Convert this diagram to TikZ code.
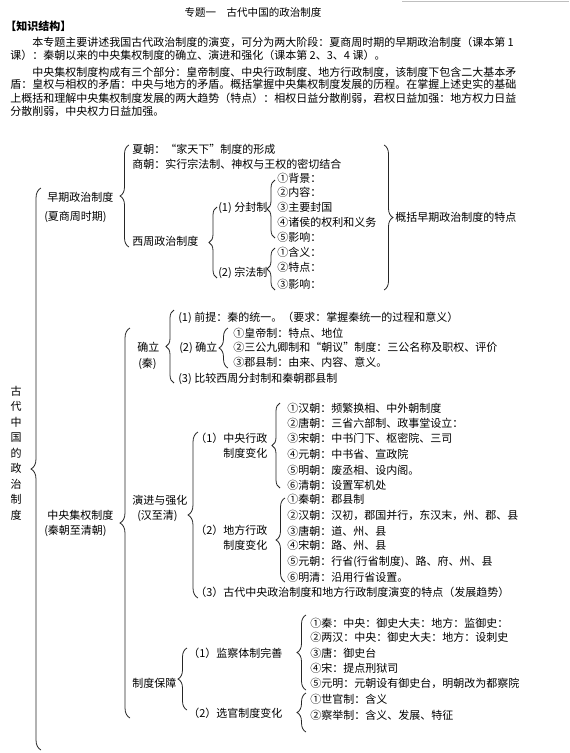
\documentclass[tikz,border=0pt]{standalone}
\usepackage{fontspec}
\setmainfont{Noto Sans CJK SC}
\usetikzlibrary{decorations.pathreplacing}

\begin{document}
\begin{tikzpicture}[x=0.75pt,y=-0.75pt,
  txt/.style={anchor=west,font=\fontsize{8.25}{10}\selectfont,text height=7.26pt,text depth=0.99pt},
  brc/.style={decorate,decoration={brace,amplitude=#1},line width=0.6pt,draw=black!85},
  brc/.default=6.5pt]
\tikzstyle{every node}+=[inner sep=0pt]
\useasboundingbox (0,0) rectangle (569,753);
\draw [black!25] (402,1) -- (569,1);
\node (title) at (253,12) [font=\fontsize{7.9}{10}\selectfont] {专题一　古代中国的政治制度};
\node [txt,font=\fontsize{8.25}{10}\selectfont\bfseries] (zsjg) at (5,26) {【知识结构】};
\node [txt] (p1) at (32,42) {本专题主要讲述我国古代政治制度的演变，可分为两大阶段：夏商周时期的早期政治制度（课本第 1};
\node [txt] (p2) at (10,55) {课）：秦朝以来的中央集权制度的确立、演进和强化（课本第 2、3、4 课）。};
\node [txt] (p3) at (32,72) {中央集权制度构成有三个部分：皇帝制度、中央行政制度、地方行政制度，该制度下包含二大基本矛};
\node [txt] (p4) at (10,84) {盾：皇权与相权的矛盾：中央与地方的矛盾。概括掌握中央集权制度发展的历程。在掌握上述史实的基础};
\node [txt] (p5) at (10,98) {上概括和理解中央集权制度发展的两大趋势（特点）：相权日益分散削弱，君权日益加强：地方权力日益};
\node [txt] (p6) at (10,111) {分散削弱，中央权力日益加强。};

\node (gudai) at (16,453) [align=center,font=\fontsize{8.25}{11.6}\selectfont] {古\\代\\中\\国\\的\\政\\治\\制\\度};
\draw [brc=7.5pt] (41,750) -- (41,188);

\node [txt] (zaoqi) at (47,197) {早期政治制度};
\node [txt] (zaoqib) at (44,216) {(夏商周时期)};
\draw [brc=6.75pt] (129,247) -- (129,145);
\node [txt] (xia) at (132,149) {夏朝：“家天下”制度的形成};
\node [txt] (shang) at (132,164) {商朝：实行宗法制、神权与王权的密切结合};
\node [txt] (xizhou) at (132,241) {西周政治制度};
\draw [brc=6pt] (217,278) -- (217,207);
\node [txt] (fenfeng) at (218,207) {(1) 分封制};
\node [txt] (zongfa) at (218,272) {(2) 宗法制};
\draw [brc=6pt] (275,238) -- (275,180);
\draw [brc=6pt] (275,290) -- (275,248);
\node [txt] (ff1) at (277,178) {①背景：};
\node [txt] (ff2) at (277,192) {②内容：};
\node [txt] (ff3) at (277,207) {③主要封国};
\node [txt] (ff4) at (277,222) {④诸侯的权利和义务};
\node [txt] (ff5) at (277,237) {⑤影响：};
\node [txt] (zf1) at (277,252) {①含义：};
\node [txt] (zf2) at (277,267) {②特点：};
\node [txt] (zf3) at (277,284) {③影响：};
\draw [brc=6.75pt] (384,145) -- (384,290);
\node [txt] (gaikuo) at (395,217) {概括早期政治制度的特点};

\node [txt] (jiquan) at (47,515) {中央集权制度};
\node [txt] (jiquanb) at (44,530) {(秦朝至清朝)};
\draw [brc=7.5pt] (130,718) -- (130,328);

\node [txt] (queli) at (137,347) {确立};
\node [txt] (quelib) at (138,363) {(秦)};
\draw [brc=6pt] (174,383) -- (174,310);
\node [txt] (ql1) at (178,317) {(1) 前提：秦的统一。（要求：掌握秦统一的过程和意义）};
\node [txt] (ql2) at (179,347) {(2) 确立};
\draw [brc=6.75pt] (228,368) -- (228,328);
\node [txt] (ql21) at (233,333) {①皇帝制：特点、地位};
\node [txt] (ql22) at (233,347) {②三公九卿制和“朝议”制度：三公名称及职权、评价};
\node [txt] (ql23) at (233,362) {③郡县制：由来、内容、意义。};
\node [txt] (ql3) at (178,378) {(3) 比较西周分封制和秦朝郡县制};

\node [txt] (yanjin) at (132,500) {演进与强化};
\node [txt] (yanjinb) at (137,515) {(汉至清)};
\draw [brc=7.5pt] (198,598) -- (198,432);
\node [txt] (zyxz) at (195,438) {（1）中央行政};
\node [txt] (zyxzb) at (223,453) {制度变化};
\draw [brc=6pt] (280,488) -- (280,403);
\node [txt] (zy1) at (287,408) {①汉朝：频繁换相、中外朝制度};
\node [txt] (zy2) at (287,423) {②唐朝：三省六部制、政事堂设立：};
\node [txt] (zy3) at (287,438) {③宋朝：中书门下、枢密院、三司};
\node [txt] (zy4) at (287,454) {④元朝：中书省、宣政院};
\node [txt] (zy5) at (287,470) {⑤明朝：废丞相、设内阁。};
\node [txt] (zy6) at (287,485) {⑥清朝：设置军机处};
\node [txt] (dfxz) at (195,530) {（2）地方行政};
\node [txt] (dfxzb) at (223,545) {制度变化};
\draw [brc=6.75pt] (285,582) -- (285,498);
\node [txt] (df1) at (287,499) {①秦朝：郡县制};
\node [txt] (df2) at (287,515) {②汉朝：汉初，郡国并行，东汉末，州、郡、县};
\node [txt] (df3) at (287,531) {③唐朝：道、州、县};
\node [txt] (df4) at (287,545) {④宋朝：路、州、县};
\node [txt] (df5) at (287,561) {⑤元朝：行省(行省制度)、路、府、州、县};
\node [txt] (df6) at (287,577) {⑥明清：沿用行省设置。};
\node [txt] (tedian) at (195,592) {（3）古代中央政治制度和地方行政制度演变的特点（发展趋势）};

\node [txt] (baozhang) at (132,683) {制度保障};
\draw [brc=6.75pt] (187,710) -- (187,648);
\node [txt] (jiancha) at (188,653) {（1）监察体制完善};
\node [txt] (xuanguan) at (188,713) {（2）选官制度变化};
\draw [brc=6.75pt] (306,690) -- (306,615);
\draw [brc=6.75pt] (306,732) -- (306,693);
\node [txt] (jc1) at (310,623) {①秦：中央：御史大夫：地方：监御史：};
\node [txt] (jc2) at (310,637) {②两汉：中央：御史大夫：地方：设刺史};
\node [txt] (jc3) at (310,653) {③唐：御史台};
\node [txt] (jc4) at (310,668) {④宋：提点刑狱司};
\node [txt] (jc5) at (310,683) {⑤元明：元朝设有御史台，明朝改为都察院};
\node [txt] (xg1) at (310,699) {①世官制：含义};
\node [txt] (xg2) at (310,715) {②察举制：含义、发展、特征};
\end{tikzpicture}
\end{document}
